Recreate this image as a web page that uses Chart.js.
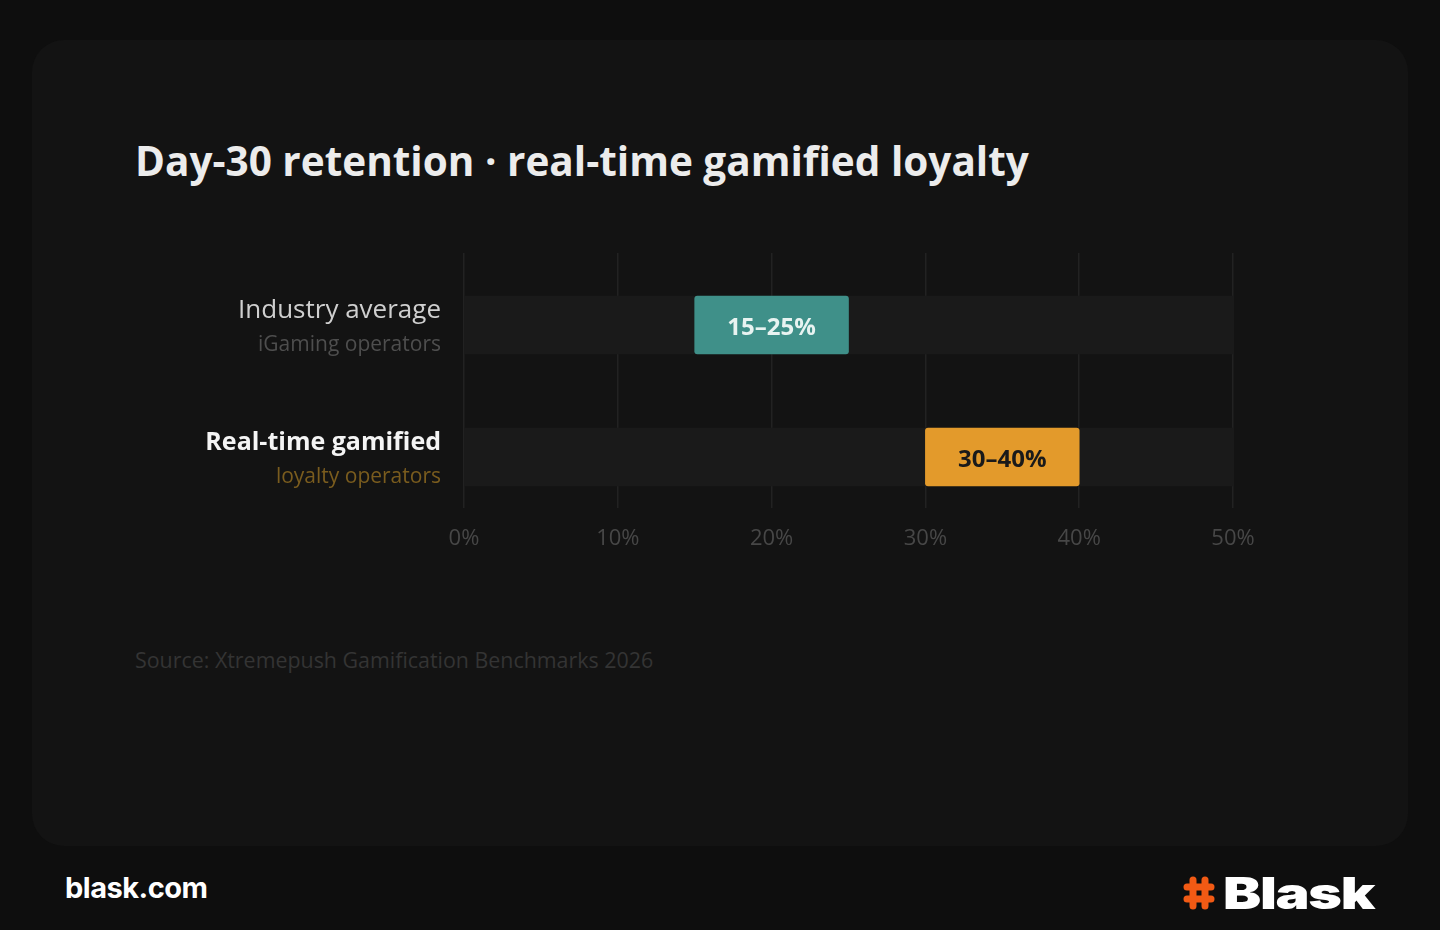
<!DOCTYPE html>
<html>
<head>
<meta charset="utf-8">
<script src="https://cdn.jsdelivr.net/npm/chart.js@4.4.1/dist/chart.umd.min.js"></script>
<style>
  html, body { margin: 0; padding: 0; }
  body { width: 1440px; height: 930px; background: #0e0e0e; position: relative; overflow: hidden; font-family: "Open Sans", sans-serif; }
  .card { position: absolute; left: 32px; top: 40px; width: 1376px; height: 806px; border-radius: 32px; background: #131313; }
  .title { position: absolute; left: 135px; top: 133px; color: #ececec; font-size: 40.5px; font-weight: 700; white-space: nowrap; }
  .source { position: absolute; left: 135px; top: 645px; color: #343434; font-size: 21.4px; white-space: nowrap; }
  .site { position: absolute; left: 65px; top: 870px; color: #fff; font-family: Inter, sans-serif; font-size: 29px; font-weight: 700; letter-spacing: -0.5px; }
  .logo { position: absolute; left: 1183px; top: 866px; display: flex; align-items: center; }
  .logo span { color: #fff; font-family: Inter, sans-serif; font-weight: 900; font-size: 44px; display: inline-block; transform: scaleX(1.3); transform-origin: left center; margin-left: 8px; letter-spacing: -1px; }
  #chart { position: absolute; left: 0; top: 0; }
</style>
</head>
<body>
<div class="card"></div>
<div class="title">Day-30 retention · real-time gamified loyalty</div>
<div class="source">Source: Xtremepush Gamification Benchmarks 2026</div>
<div class="site">blask.com</div>
<div class="logo">
  <svg width="32" height="34" viewBox="0 0 32 34">
    <g stroke="#f25a14" stroke-width="7" stroke-linecap="round" fill="none">
      <line x1="10" y1="4" x2="10" y2="30"/>
      <line x1="22" y1="4" x2="22" y2="30"/>
      <line x1="4" y1="11" x2="28" y2="11"/>
      <line x1="4" y1="23" x2="28" y2="23"/>
    </g>
  </svg>
  <span>Blask</span>
</div>
<canvas id="chart" width="1440" height="930"></canvas>
<script>
// rows
const rowLabels = ['Industry average', 'Real-time gamified'];
const rowSubLabels = ['iGaming operators', 'loyalty operators'];
const rangeLow = [15, 30];
const rangeHigh = [25, 40];
const rangeLabels = ['15–25%', '30–40%'];
const axisMax = 50;
const tickValues = [0, 10, 20, 30, 40, 50];

const barColors = ['#3f9089', '#e39a2b'];
const barTextColors = ['#e8f3f1', '#1a1a1a'];
const labelColors = ['#cfcfcf', '#f4f4f4'];
const labelFonts = ['400 26px "Open Sans"', '700 25px "Open Sans"'];
const subLabelColors = ['#4e4e4e', '#7a5c1e'];

// labels on the left side of each row
const rowLabelPlugin = {
  id: 'rowLabels',
  afterDraw(chart) {
    const ctx = chart.ctx;
    const y = chart.scales.y;
    const x0 = chart.chartArea.left - 23;
    ctx.save();
    ctx.textAlign = 'right';
    ctx.textBaseline = 'middle';
    rowLabels.forEach((lbl, i) => {
      const cy = y.getPixelForValue(i);
      ctx.font = labelFonts[i];
      ctx.fillStyle = labelColors[i];
      ctx.fillText(lbl, x0, cy - 14);
      ctx.font = '400 21px "Open Sans"';
      ctx.fillStyle = subLabelColors[i];
      ctx.fillText(rowSubLabels[i], x0, cy + 20);
    });
    ctx.restore();
  }
};

// range text inside value bars
const barTextPlugin = {
  id: 'barText',
  afterDatasetsDraw(chart) {
    const ctx = chart.ctx;
    const meta = chart.getDatasetMeta(0);
    ctx.save();
    ctx.textAlign = 'center';
    ctx.textBaseline = 'middle';
    ctx.font = '700 24px "Open Sans"';
    meta.data.forEach((bar, i) => {
      const p = bar.getProps(['x', 'base', 'y'], true);
      ctx.fillStyle = barTextColors[i];
      ctx.fillText(rangeLabels[i], (p.x + p.base) / 2, p.y + 3);
    });
    ctx.restore();
  }
};

new Chart(document.getElementById('chart'), {
  type: 'bar',
  data: {
    datasets: [
      {
        label: 'Day-30 retention',
        data: rangeLow.map((v, i) => ({ x: [v, rangeHigh[i]], y: i })),
        backgroundColor: barColors,
        borderRadius: 3,
        borderSkipped: false,
        barThickness: 58,
        order: 1
      },
      {
        label: 'track',
        data: rangeLow.map((v, i) => ({ x: [0, axisMax], y: i })),
        backgroundColor: '#1a1a1a',
        barThickness: 58,
        order: 2
      }
    ]
  },
  options: {
    indexAxis: 'y',
    responsive: false,
    animation: false,
    grouped: false,
    layout: { padding: { left: 464, right: 207, top: 253, bottom: 372 } },
    plugins: { legend: { display: false }, tooltip: { enabled: false } },
    scales: {
      x: {
        type: 'linear',
        min: 0,
        max: axisMax,
        afterBuildTicks: s => { s.ticks = tickValues.map(v => ({ value: v })); },
        afterFit: s => { s.height = 50; },
        border: { display: false },
        grid: { color: '#222222', lineWidth: 1.5, drawTicks: false },
        ticks: {
          padding: 18,
          color: '#474747',
          font: { family: 'Open Sans', size: 22 },
          callback: v => v + '%'
        }
      },
      y: {
        type: 'linear',
        reverse: true,
        offset: false,
        min: -0.545,
        max: 1.386,
        display: false
      }
    }
  },
  plugins: [rowLabelPlugin, barTextPlugin]
});
</script>
</body>
</html>
